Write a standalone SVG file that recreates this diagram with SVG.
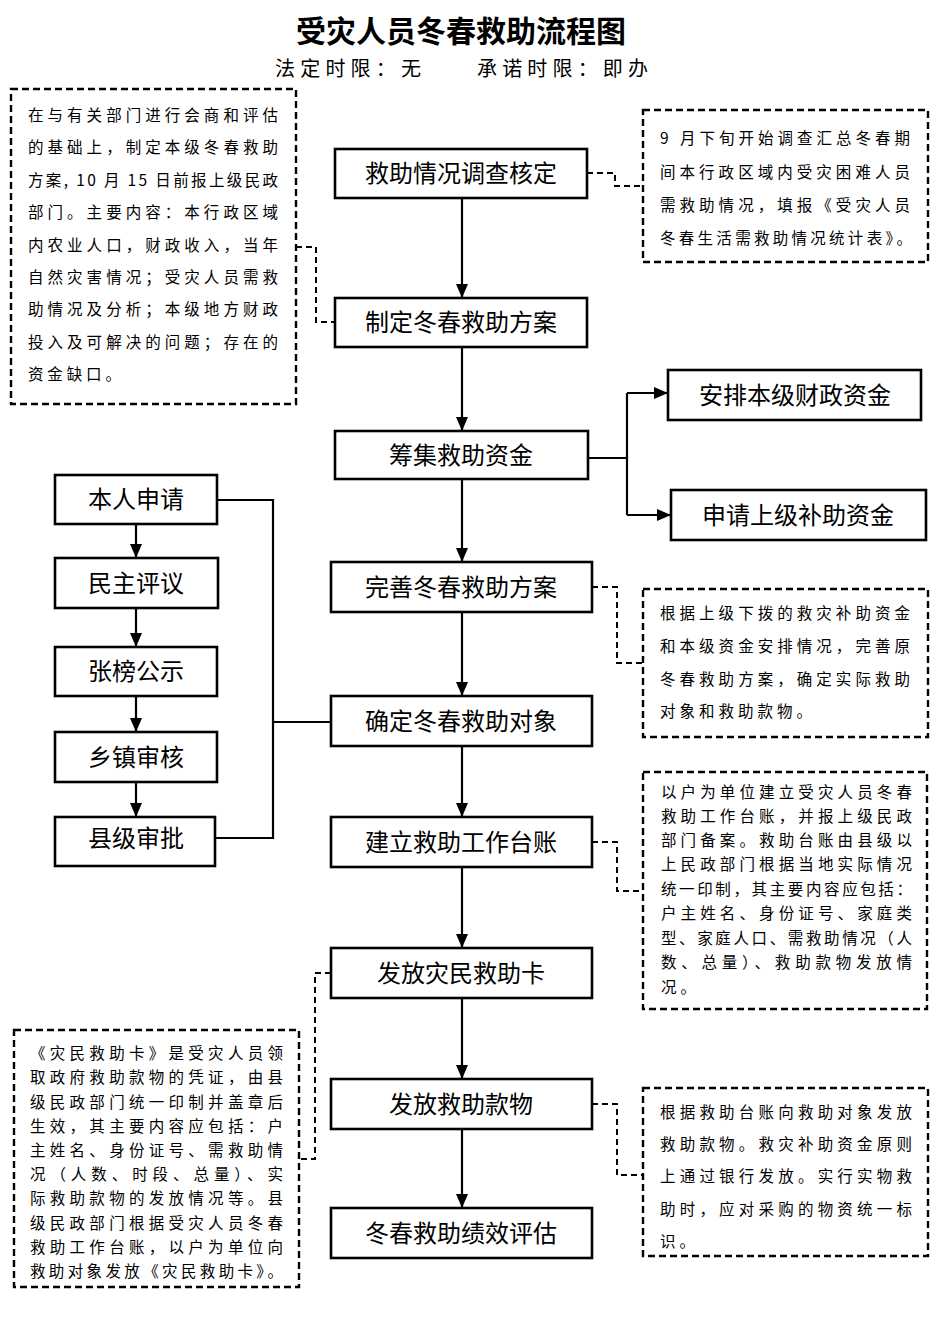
<svg xmlns="http://www.w3.org/2000/svg" width="946" height="1323" viewBox="0 0 946 1323">
<style>
.box{fill:#fff;stroke:#000;stroke-width:2.6}
.note{fill:#fff;stroke:#000;stroke-width:2.4;stroke-dasharray:7 4}
.lbl{font-family:"Noto Sans CJK SC","Liberation Sans",sans-serif;font-size:24px;fill:#000;text-anchor:middle;dominant-baseline:central}
.nt{font-family:"Noto Sans CJK SC","Liberation Serif",serif;font-size:15.5px;fill:#000;dominant-baseline:central}
.ln{fill:none;stroke:#000;stroke-width:2.2}
.dl{fill:none;stroke:#000;stroke-width:2;stroke-dasharray:6 4}
.ttl{font-family:"Noto Sans CJK SC","Liberation Sans",sans-serif;font-size:30px;font-weight:bold;fill:#000;text-anchor:middle;dominant-baseline:central}
.sub{font-family:"Noto Sans CJK SC","Liberation Serif",serif;font-size:20px;fill:#000;dominant-baseline:central}
</style>
<defs>
<marker id="arr" viewBox="0 0 14 12" refX="14" refY="6" markerWidth="14" markerHeight="12" markerUnits="userSpaceOnUse" orient="auto">
<path d="M0,0 L14,6 L0,12 z" fill="#000"/>
</marker>
</defs>
<rect x="0" y="0" width="946" height="1323" fill="#fff"/>

<g id="title">
<text class="ttl" x="461" y="29">受灾人员冬春救助流程图</text>
<text class="sub" x="275" y="67" textLength="146" lengthAdjust="spacing">法定时限：无</text>
<text class="sub" x="477" y="67" textLength="171" lengthAdjust="spacing">承诺时限：即办</text>
</g>

<g id="connectors">
<path class="ln" d="M462,198 V298" marker-end="url(#arr)"/>
<path class="ln" d="M462,347 V431" marker-end="url(#arr)"/>
<path class="ln" d="M462,479 V562" marker-end="url(#arr)"/>
<path class="ln" d="M462,612 V696" marker-end="url(#arr)"/>
<path class="ln" d="M462,746 V817" marker-end="url(#arr)"/>
<path class="ln" d="M462,867 V948" marker-end="url(#arr)"/>
<path class="ln" d="M462,998 V1079" marker-end="url(#arr)"/>
<path class="ln" d="M462,1129 V1208" marker-end="url(#arr)"/>
<path class="ln" d="M588,458 H627"/>
<path class="ln" d="M627,393 V515"/>
<path class="ln" d="M627,393 H668" marker-end="url(#arr)"/>
<path class="ln" d="M627,515 H671" marker-end="url(#arr)"/>
<path class="ln" d="M136,524 V558" marker-end="url(#arr)"/>
<path class="ln" d="M136,608 V647" marker-end="url(#arr)"/>
<path class="ln" d="M136,696 V732" marker-end="url(#arr)"/>
<path class="ln" d="M136,782 V817" marker-end="url(#arr)"/>
<path class="ln" d="M217,500 H273 V838 H215"/>
<path class="ln" d="M273,722 H331"/>
<path class="dl" d="M587,173 H615 V186 H643"/>
<path class="dl" d="M296,247 H316 V322 H335"/>
<path class="dl" d="M592,587 H617 V663 H643"/>
<path class="dl" d="M592,842 H617 V891 H643"/>
<path class="dl" d="M331,973 H315 V1159 H299"/>
<path class="dl" d="M592,1104 H617 V1175 H643"/>
</g>

<g id="n1"><rect class="box" x="335" y="149" width="252" height="49"/><text class="lbl" x="461" y="171">救助情况调查核定</text></g>
<g id="n2"><rect class="box" x="335" y="298" width="252" height="49"/><text class="lbl" x="461" y="320">制定冬春救助方案</text></g>
<g id="n3"><rect class="box" x="335" y="431" width="253" height="48"/><text class="lbl" x="461" y="453">筹集救助资金</text></g>
<g id="n3a"><rect class="box" x="668" y="370" width="253" height="50"/><text class="lbl" x="795" y="393">安排本级财政资金</text></g>
<g id="n3b"><rect class="box" x="671" y="490" width="255" height="50"/><text class="lbl" x="798" y="513">申请上级补助资金</text></g>
<g id="n4"><rect class="box" x="331" y="562" width="261" height="50"/><text class="lbl" x="461" y="585">完善冬春救助方案</text></g>
<g id="n5"><rect class="box" x="331" y="696" width="261" height="50"/><text class="lbl" x="461" y="719">确定冬春救助对象</text></g>
<g id="n6"><rect class="box" x="331" y="817" width="261" height="50"/><text class="lbl" x="461" y="840">建立救助工作台账</text></g>
<g id="n7"><rect class="box" x="331" y="948" width="261" height="50"/><text class="lbl" x="461" y="971">发放灾民救助卡</text></g>
<g id="n8"><rect class="box" x="331" y="1079" width="261" height="50"/><text class="lbl" x="461" y="1102">发放救助款物</text></g>
<g id="n9"><rect class="box" x="331" y="1208" width="261" height="50"/><text class="lbl" x="461" y="1231">冬春救助绩效评估</text></g>

<g id="l1"><rect class="box" x="55" y="475" width="162" height="49"/><text class="lbl" x="136" y="497">本人申请</text></g>
<g id="l2"><rect class="box" x="55" y="558" width="163" height="50"/><text class="lbl" x="136" y="581">民主评议</text></g>
<g id="l3"><rect class="box" x="55" y="647" width="162" height="49"/><text class="lbl" x="136" y="669">张榜公示</text></g>
<g id="l4"><rect class="box" x="55" y="732" width="162" height="50"/><text class="lbl" x="136" y="755">乡镇审核</text></g>
<g id="l5"><rect class="box" x="55" y="817" width="160" height="49"/><text class="lbl" x="136" y="836">县级审批</text></g>

<g id="note1">
<rect class="note" x="11" y="89" width="285" height="315"/>
<text class="nt" x="28" y="114" textLength="250" lengthAdjust="spacing">在与有关部门进行会商和评估</text>
<text class="nt" x="28" y="146" textLength="250" lengthAdjust="spacing">的基础上，制定本级冬春救助</text>
<text class="nt" x="28" y="179" textLength="250" lengthAdjust="spacing">方案, 10 月 15 日前报上级民政</text>
<text class="nt" x="28" y="211" textLength="250" lengthAdjust="spacing">部门。主要内容：本行政区域</text>
<text class="nt" x="28" y="244" textLength="250" lengthAdjust="spacing">内农业人口，财政收入，当年</text>
<text class="nt" x="28" y="276" textLength="250" lengthAdjust="spacing">自然灾害情况；受灾人员需救</text>
<text class="nt" x="28" y="308" textLength="250" lengthAdjust="spacing">助情况及分析；本级地方财政</text>
<text class="nt" x="28" y="341" textLength="250" lengthAdjust="spacing">投入及可解决的问题；存在的</text>
<text class="nt" x="28" y="373" textLength="93" lengthAdjust="spacing">资金缺口。</text>
</g>

<g id="note2">
<rect class="note" x="643" y="110" width="285" height="152"/>
<text class="nt" x="660" y="137" textLength="250" lengthAdjust="spacing">9 月下旬开始调查汇总冬春期</text>
<text class="nt" x="660" y="171" textLength="250" lengthAdjust="spacing">间本行政区域内受灾困难人员</text>
<text class="nt" x="660" y="204" textLength="250" lengthAdjust="spacing">需救助情况，填报《受灾人员</text>
<text class="nt" x="660" y="237" textLength="252" lengthAdjust="spacing">冬春生活需救助情况统计表》。</text>
</g>

<g id="note3">
<rect class="note" x="643" y="589" width="285" height="148"/>
<text class="nt" x="660" y="612" textLength="250" lengthAdjust="spacing">根据上级下拨的救灾补助资金</text>
<text class="nt" x="660" y="645" textLength="250" lengthAdjust="spacing">和本级资金安排情况，完善原</text>
<text class="nt" x="660" y="678" textLength="250" lengthAdjust="spacing">冬春救助方案，确定实际救助</text>
<text class="nt" x="660" y="710" textLength="152" lengthAdjust="spacing">对象和救助款物。</text>
</g>

<g id="note4">
<rect class="note" x="643" y="772" width="284" height="237"/>
<text class="nt" x="661" y="791" textLength="251" lengthAdjust="spacing">以户为单位建立受灾人员冬春</text>
<text class="nt" x="661" y="815" textLength="251" lengthAdjust="spacing">救助工作台账，并报上级民政</text>
<text class="nt" x="661" y="839" textLength="251" lengthAdjust="spacing">部门备案。救助台账由县级以</text>
<text class="nt" x="661" y="863" textLength="251" lengthAdjust="spacing">上民政部门根据当地实际情况</text>
<text class="nt" x="661" y="888" textLength="251" lengthAdjust="spacing">统一印制，其主要内容应包括：</text>
<text class="nt" x="661" y="912" textLength="251" lengthAdjust="spacing">户主姓名、身份证号、家庭类</text>
<text class="nt" x="661" y="937" textLength="251" lengthAdjust="spacing">型、家庭人口、需救助情况（人</text>
<text class="nt" x="661" y="961" textLength="251" lengthAdjust="spacing">数、总量）、救助款物发放情</text>
<text class="nt" x="661" y="986" textLength="35" lengthAdjust="spacing">况。</text>
</g>

<g id="note5">
<rect class="note" x="14" y="1030" width="285" height="257"/>
<text class="nt" x="30" y="1052" textLength="253" lengthAdjust="spacing">《灾民救助卡》是受灾人员领</text>
<text class="nt" x="30" y="1076" textLength="253" lengthAdjust="spacing">取政府救助款物的凭证，由县</text>
<text class="nt" x="30" y="1101" textLength="253" lengthAdjust="spacing">级民政部门统一印制并盖章后</text>
<text class="nt" x="30" y="1125" textLength="253" lengthAdjust="spacing">生效，其主要内容应包括：户</text>
<text class="nt" x="30" y="1149" textLength="253" lengthAdjust="spacing">主姓名、身份证号、需救助情</text>
<text class="nt" x="30" y="1173" textLength="253" lengthAdjust="spacing">况（人数、时段、总量）、实</text>
<text class="nt" x="30" y="1197" textLength="253" lengthAdjust="spacing">际救助款物的发放情况等。县</text>
<text class="nt" x="30" y="1222" textLength="253" lengthAdjust="spacing">级民政部门根据受灾人员冬春</text>
<text class="nt" x="30" y="1246" textLength="253" lengthAdjust="spacing">救助工作台账，以户为单位向</text>
<text class="nt" x="30" y="1270" textLength="253" lengthAdjust="spacing">救助对象发放《灾民救助卡》。</text>
</g>

<g id="note6">
<rect class="note" x="643" y="1088" width="285" height="168"/>
<text class="nt" x="660" y="1111" textLength="252" lengthAdjust="spacing">根据救助台账向救助对象发放</text>
<text class="nt" x="660" y="1143" textLength="252" lengthAdjust="spacing">救助款物。救灾补助资金原则</text>
<text class="nt" x="660" y="1175" textLength="252" lengthAdjust="spacing">上通过银行发放。实行实物救</text>
<text class="nt" x="660" y="1208" textLength="252" lengthAdjust="spacing">助时，应对采购的物资统一标</text>
<text class="nt" x="660" y="1240" textLength="35" lengthAdjust="spacing">识。</text>
</g>
</svg>
